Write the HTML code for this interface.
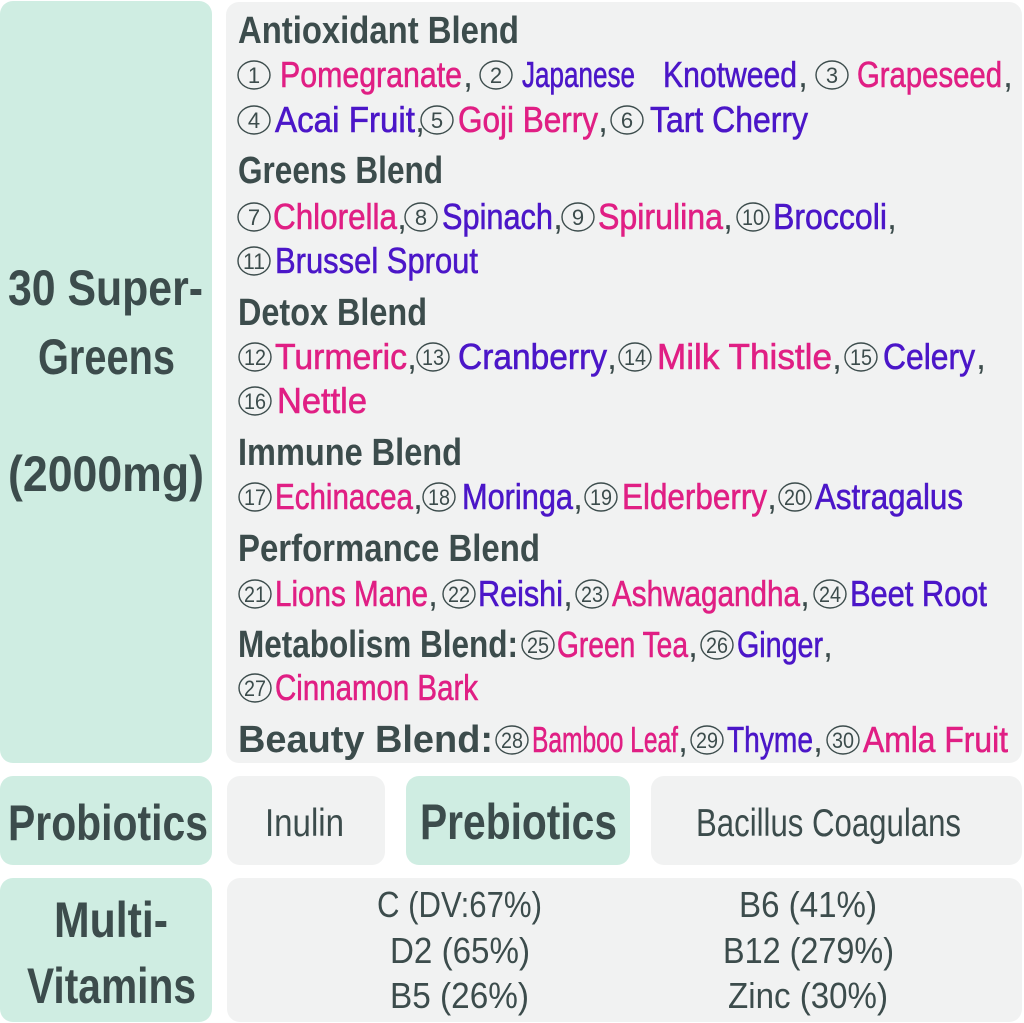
<!DOCTYPE html>
<html>
<head>
<meta charset="utf-8">
<style>
html,body{margin:0;padding:0;background:#ffffff;}
svg{display:block;}
text{font-family:"Liberation Sans","DejaVu Sans",sans-serif;}
.h{font-weight:700;font-size:38px;fill:#3c4c4c;}
.p{font-size:36px;fill:#e01f84;stroke:#e01f84;stroke-width:0.6;}
.u{font-size:36px;fill:#4b16c8;stroke:#4b16c8;stroke-width:0.6;}
.c{font-size:36px;fill:#3c4c4c;}
.n{font-size:22px;fill:#3c4c4c;}
.big{font-weight:700;font-size:50px;fill:#3c4c4c;}
.reg{font-size:39px;fill:#3c4c4c;}
.vit{font-size:36px;fill:#3c4c4c;}
.o{fill:none;stroke:#3c4c4c;stroke-width:1.4;}
</style>
</head>
<body>
<svg width="1024" height="1023" viewBox="0 0 1024 1023" xmlns="http://www.w3.org/2000/svg">
<rect x="0" y="1" width="212" height="762" rx="13" fill="#cfede2"/>
<rect x="226" y="2" width="796" height="761" rx="13" fill="#f1f2f2"/>
<rect x="0" y="776" width="212" height="89" rx="13" fill="#cfede2"/>
<rect x="227" y="776" width="158" height="89" rx="13" fill="#f1f2f2"/>
<rect x="406" y="776" width="224" height="89" rx="13" fill="#cfede2"/>
<rect x="651" y="776" width="371" height="89" rx="13" fill="#f1f2f2"/>
<rect x="0" y="878" width="212" height="144" rx="13" fill="#cfede2"/>
<rect x="227" y="878" width="795" height="144" rx="13" fill="#f1f2f2"/>

<text class="big" x="8" y="305" textLength="195" lengthAdjust="spacingAndGlyphs">30 Super-</text>
<text class="big" x="38" y="374" textLength="137" lengthAdjust="spacingAndGlyphs">Greens</text>
<text class="big" x="8" y="491" textLength="196" lengthAdjust="spacingAndGlyphs">(2000mg)</text>

<text class="h" x="238" y="43" textLength="281" lengthAdjust="spacingAndGlyphs">Antioxidant Blend</text>
<text class="h" x="238" y="183" textLength="205" lengthAdjust="spacingAndGlyphs">Greens Blend</text>
<text class="h" x="238" y="325" textLength="189" lengthAdjust="spacingAndGlyphs">Detox Blend</text>
<text class="h" x="238" y="465" textLength="224" lengthAdjust="spacingAndGlyphs">Immune Blend</text>
<text class="h" x="238" y="561" textLength="302" lengthAdjust="spacingAndGlyphs">Performance Blend</text>
<text class="h" x="238" y="657" textLength="280" lengthAdjust="spacingAndGlyphs">Metabolism Blend:</text>
<text class="h" x="238" y="752" textLength="255" lengthAdjust="spacingAndGlyphs">Beauty Blend:</text>

<ellipse class="o" cx="254" cy="75" rx="16" ry="14"/><text class="n" x="254" y="83" text-anchor="middle">1</text>
<text class="p" x="280" y="87" textLength="182" lengthAdjust="spacingAndGlyphs">Pomegranate</text>
<text class="c" x="463" y="87">,</text>
<ellipse class="o" cx="496" cy="75" rx="16" ry="14"/><text class="n" x="496" y="83" text-anchor="middle">2</text>
<text class="u" x="522" y="87" textLength="113" lengthAdjust="spacingAndGlyphs">Japanese</text>
<text class="u" x="663" y="87" textLength="134" lengthAdjust="spacingAndGlyphs">Knotweed</text>
<text class="c" x="798" y="87">,</text>
<ellipse class="o" cx="832" cy="75" rx="16" ry="14"/><text class="n" x="832" y="83" text-anchor="middle">3</text>
<text class="p" x="857" y="87" textLength="145" lengthAdjust="spacingAndGlyphs">Grapeseed</text>
<text class="c" x="1003" y="87">,</text>

<ellipse class="o" cx="254" cy="120" rx="16" ry="14"/><text class="n" x="254" y="128" text-anchor="middle">4</text>
<text class="u" x="275" y="132" textLength="140" lengthAdjust="spacingAndGlyphs">Acai Fruit</text>
<text class="c" x="415" y="132">,</text>
<ellipse class="o" cx="437" cy="120" rx="16" ry="14"/><text class="n" x="437" y="128" text-anchor="middle">5</text>
<text class="p" x="458" y="132" textLength="140" lengthAdjust="spacingAndGlyphs">Goji Berry</text>
<text class="c" x="598" y="132">,</text>
<ellipse class="o" cx="627" cy="120" rx="16" ry="14"/><text class="n" x="627" y="128" text-anchor="middle">6</text>
<text class="u" x="650" y="132" textLength="158" lengthAdjust="spacingAndGlyphs">Tart Cherry</text>

<ellipse class="o" cx="254" cy="217" rx="16" ry="14"/><text class="n" x="254" y="225" text-anchor="middle">7</text>
<text class="p" x="273" y="229" textLength="124" lengthAdjust="spacingAndGlyphs">Chlorella</text>
<text class="c" x="397" y="229">,</text>
<ellipse class="o" cx="421" cy="217" rx="16" ry="14"/><text class="n" x="421" y="225" text-anchor="middle">8</text>
<text class="u" x="442" y="229" textLength="111" lengthAdjust="spacingAndGlyphs">Spinach</text>
<text class="c" x="553" y="229">,</text>
<ellipse class="o" cx="578" cy="217" rx="16" ry="14"/><text class="n" x="578" y="225" text-anchor="middle">9</text>
<text class="p" x="598" y="229" textLength="125" lengthAdjust="spacingAndGlyphs">Spirulina</text>
<text class="c" x="723" y="229">,</text>
<ellipse class="o" cx="753" cy="217" rx="16" ry="14"/><text class="n" x="753" y="225" text-anchor="middle" textLength="22" lengthAdjust="spacingAndGlyphs">10</text>
<text class="u" x="773" y="229" textLength="114" lengthAdjust="spacingAndGlyphs">Broccoli</text>
<text class="c" x="887" y="229">,</text>

<ellipse class="o" cx="254" cy="261" rx="16" ry="14"/><text class="n" x="254" y="269" text-anchor="middle" textLength="22" lengthAdjust="spacingAndGlyphs">11</text>
<text class="u" x="275" y="273" textLength="203" lengthAdjust="spacingAndGlyphs">Brussel Sprout</text>

<ellipse class="o" cx="255" cy="357" rx="16" ry="14"/><text class="n" x="255" y="365" text-anchor="middle" textLength="22" lengthAdjust="spacingAndGlyphs">12</text>
<text class="p" x="275" y="369" textLength="132" lengthAdjust="spacingAndGlyphs">Turmeric</text>
<text class="c" x="407" y="369">,</text>
<ellipse class="o" cx="433" cy="357" rx="16" ry="14"/><text class="n" x="433" y="365" text-anchor="middle" textLength="22" lengthAdjust="spacingAndGlyphs">13</text>
<text class="u" x="458" y="369" textLength="149" lengthAdjust="spacingAndGlyphs">Cranberry</text>
<text class="c" x="607" y="369">,</text>
<ellipse class="o" cx="635" cy="357" rx="16" ry="14"/><text class="n" x="635" y="365" text-anchor="middle" textLength="22" lengthAdjust="spacingAndGlyphs">14</text>
<text class="p" x="657" y="369" textLength="175" lengthAdjust="spacingAndGlyphs">Milk Thistle</text>
<text class="c" x="832" y="369">,</text>
<ellipse class="o" cx="861" cy="357" rx="16" ry="14"/><text class="n" x="861" y="365" text-anchor="middle" textLength="22" lengthAdjust="spacingAndGlyphs">15</text>
<text class="u" x="883" y="369" textLength="92" lengthAdjust="spacingAndGlyphs">Celery</text>
<text class="c" x="976" y="369">,</text>

<ellipse class="o" cx="255" cy="401" rx="16" ry="14"/><text class="n" x="255" y="409" text-anchor="middle" textLength="22" lengthAdjust="spacingAndGlyphs">16</text>
<text class="p" x="277" y="413" textLength="90" lengthAdjust="spacingAndGlyphs">Nettle</text>

<ellipse class="o" cx="255" cy="497" rx="16" ry="14"/><text class="n" x="255" y="505" text-anchor="middle" textLength="22" lengthAdjust="spacingAndGlyphs">17</text>
<text class="p" x="275" y="509" textLength="138" lengthAdjust="spacingAndGlyphs">Echinacea</text>
<text class="c" x="413" y="509">,</text>
<ellipse class="o" cx="439" cy="497" rx="16" ry="14"/><text class="n" x="439" y="505" text-anchor="middle" textLength="22" lengthAdjust="spacingAndGlyphs">18</text>
<text class="u" x="462" y="509" textLength="111" lengthAdjust="spacingAndGlyphs">Moringa</text>
<text class="c" x="573" y="509">,</text>
<ellipse class="o" cx="601" cy="497" rx="16" ry="14"/><text class="n" x="601" y="505" text-anchor="middle" textLength="22" lengthAdjust="spacingAndGlyphs">19</text>
<text class="p" x="622" y="509" textLength="145" lengthAdjust="spacingAndGlyphs">Elderberry</text>
<text class="c" x="767" y="509">,</text>
<ellipse class="o" cx="795" cy="497" rx="16" ry="14"/><text class="n" x="795" y="505" text-anchor="middle" textLength="22" lengthAdjust="spacingAndGlyphs">20</text>
<text class="u" x="815" y="509" textLength="148" lengthAdjust="spacingAndGlyphs">Astragalus</text>

<ellipse class="o" cx="255" cy="594" rx="16" ry="14"/><text class="n" x="255" y="602" text-anchor="middle" textLength="22" lengthAdjust="spacingAndGlyphs">21</text>
<text class="p" x="275" y="606" textLength="153" lengthAdjust="spacingAndGlyphs">Lions Mane</text>
<text class="c" x="428" y="606">,</text>
<ellipse class="o" cx="459" cy="594" rx="16" ry="14"/><text class="n" x="459" y="602" text-anchor="middle" textLength="22" lengthAdjust="spacingAndGlyphs">22</text>
<text class="u" x="478" y="606" textLength="85" lengthAdjust="spacingAndGlyphs">Reishi</text>
<text class="c" x="563" y="606">,</text>
<ellipse class="o" cx="592" cy="594" rx="16" ry="14"/><text class="n" x="592" y="602" text-anchor="middle" textLength="22" lengthAdjust="spacingAndGlyphs">23</text>
<text class="p" x="612" y="606" textLength="188" lengthAdjust="spacingAndGlyphs">Ashwagandha</text>
<text class="c" x="800" y="606">,</text>
<ellipse class="o" cx="830" cy="594" rx="16" ry="14"/><text class="n" x="830" y="602" text-anchor="middle" textLength="22" lengthAdjust="spacingAndGlyphs">24</text>
<text class="u" x="850" y="606" textLength="137" lengthAdjust="spacingAndGlyphs">Beet Root</text>

<ellipse class="o" cx="538" cy="645" rx="16" ry="14"/><text class="n" x="538" y="653" text-anchor="middle" textLength="22" lengthAdjust="spacingAndGlyphs">25</text>
<text class="p" x="557" y="657" textLength="131" lengthAdjust="spacingAndGlyphs">Green Tea</text>
<text class="c" x="688" y="657">,</text>
<ellipse class="o" cx="717" cy="645" rx="16" ry="14"/><text class="n" x="717" y="653" text-anchor="middle" textLength="22" lengthAdjust="spacingAndGlyphs">26</text>
<text class="u" x="737" y="657" textLength="86" lengthAdjust="spacingAndGlyphs">Ginger</text>
<text class="c" x="823" y="657">,</text>

<ellipse class="o" cx="255" cy="688" rx="16" ry="14"/><text class="n" x="255" y="696" text-anchor="middle" textLength="22" lengthAdjust="spacingAndGlyphs">27</text>
<text class="p" x="275" y="700" textLength="203" lengthAdjust="spacingAndGlyphs">Cinnamon Bark</text>

<ellipse class="o" cx="512" cy="740" rx="16" ry="14"/><text class="n" x="512" y="748" text-anchor="middle" textLength="22" lengthAdjust="spacingAndGlyphs">28</text>
<text class="p" x="532" y="752" textLength="146" lengthAdjust="spacingAndGlyphs">Bamboo Leaf</text>
<text class="c" x="678" y="752">,</text>
<ellipse class="o" cx="707" cy="740" rx="16" ry="14"/><text class="n" x="707" y="748" text-anchor="middle" textLength="22" lengthAdjust="spacingAndGlyphs">29</text>
<text class="u" x="727" y="752" textLength="86" lengthAdjust="spacingAndGlyphs">Thyme</text>
<text class="c" x="813" y="752">,</text>
<ellipse class="o" cx="843" cy="740" rx="16" ry="14"/><text class="n" x="843" y="748" text-anchor="middle" textLength="22" lengthAdjust="spacingAndGlyphs">30</text>
<text class="p" x="863" y="752" textLength="145" lengthAdjust="spacingAndGlyphs">Amla Fruit</text>

<text class="big" x="8" y="840" textLength="200" lengthAdjust="spacingAndGlyphs">Probiotics</text>
<text class="reg" x="265" y="836" textLength="79" lengthAdjust="spacingAndGlyphs">Inulin</text>
<text class="big" x="420" y="839" textLength="197" lengthAdjust="spacingAndGlyphs">Prebiotics</text>
<text class="reg" x="696" y="836" textLength="265" lengthAdjust="spacingAndGlyphs">Bacillus Coagulans</text>

<text class="big" x="54" y="937" textLength="114" lengthAdjust="spacingAndGlyphs">Multi-</text>
<text class="big" x="27" y="1003" textLength="169" lengthAdjust="spacingAndGlyphs">Vitamins</text>
<text class="vit" x="377" y="917" textLength="165" lengthAdjust="spacingAndGlyphs">C (DV:67%)</text>
<text class="vit" x="390" y="963" textLength="140" lengthAdjust="spacingAndGlyphs">D2 (65%)</text>
<text class="vit" x="390" y="1008" textLength="139" lengthAdjust="spacingAndGlyphs">B5 (26%)</text>
<text class="vit" x="739" y="917" textLength="138" lengthAdjust="spacingAndGlyphs">B6 (41%)</text>
<text class="vit" x="723" y="963" textLength="171" lengthAdjust="spacingAndGlyphs">B12 (279%)</text>
<text class="vit" x="728" y="1008" textLength="160" lengthAdjust="spacingAndGlyphs">Zinc (30%)</text>
</svg>
</body>
</html>
